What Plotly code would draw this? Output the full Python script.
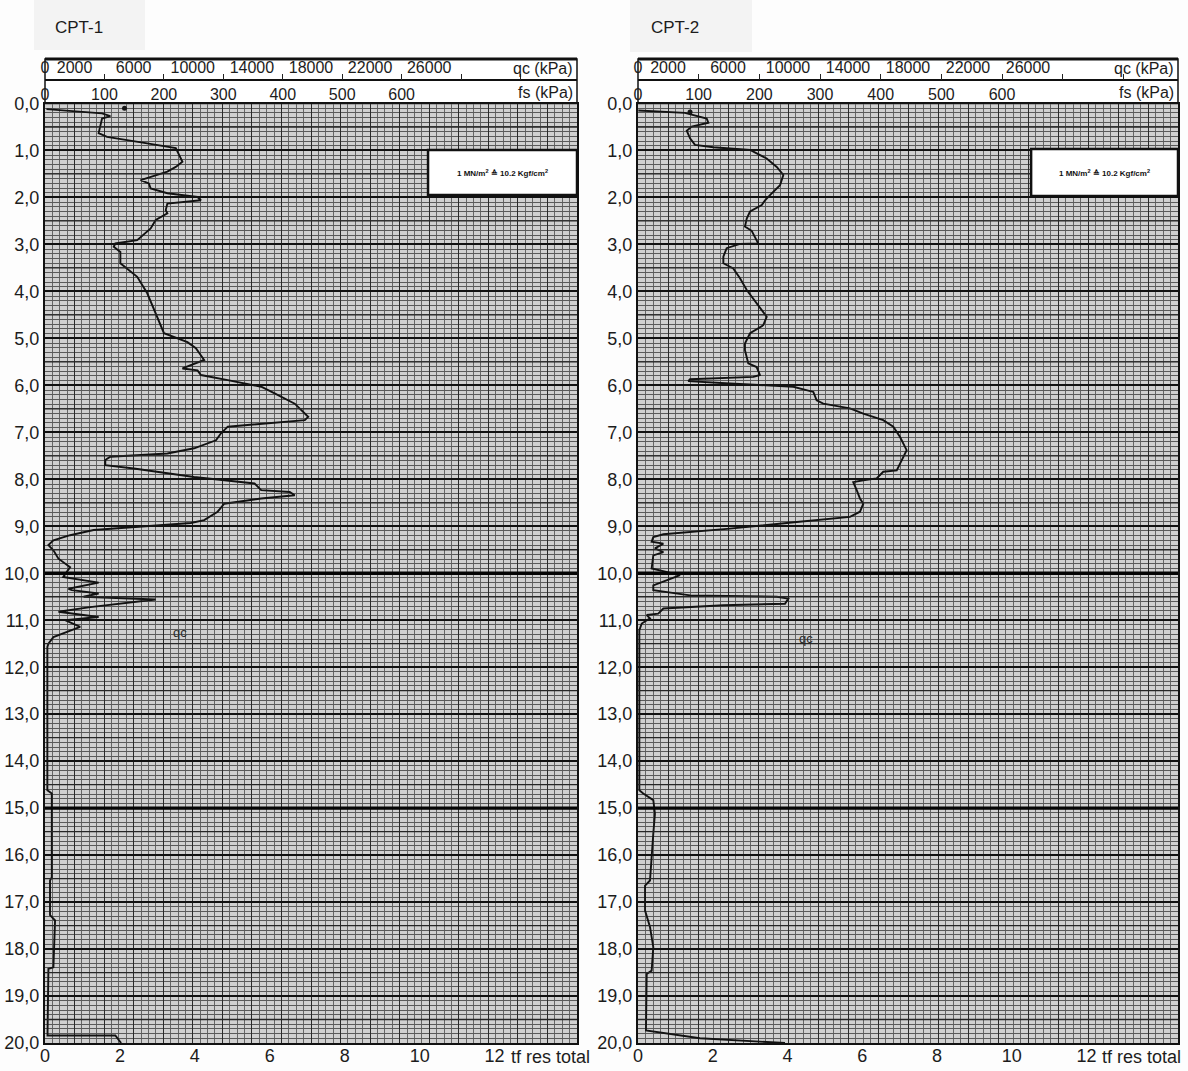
import plotly.graph_objects as go

# ---------------------------------------------------------------------------
# Cone penetration logs: depth (m) vs cone resistance qc (kPa)
# ---------------------------------------------------------------------------
cpt1_depth = [0.12, 0.21, 0.27, 0.32, 0.63, 0.71, 0.85, 0.95, 1.24, 1.35, 1.45, 1.63, 1.70,
              1.81, 1.91, 1.99, 2.06, 2.13, 2.27, 2.34, 2.48, 2.66, 2.91, 2.98, 3.05, 3.16,
              3.40, 3.69, 4.04, 4.47, 4.89, 5.08, 5.21, 5.46, 5.53, 5.64, 5.68, 5.78, 5.89,
              6.03, 6.17, 6.39, 6.67, 6.74, 6.88, 7.02, 7.17, 7.34, 7.45, 7.52, 7.59, 7.70,
              7.77, 7.95, 8.09, 8.23, 8.27, 8.34, 8.41, 8.52, 8.69, 8.87, 8.93, 9.01, 9.08,
              9.19, 9.30, 9.40, 9.51, 9.69, 9.87, 10.08, 10.20, 10.33, 10.36, 10.43, 10.50,
              10.56, 10.72, 10.82, 10.93, 11.00, 11.14, 11.36, 11.50, 11.57, 14.62, 14.69,
              16.47, 16.54, 17.28, 17.39, 18.39, 18.42, 19.84, 19.84, 20.0]
cpt1_qc = [100, 3860, 4420, 3860, 3630, 4200, 6920, 8850, 9300, 8850, 8280, 6470, 7030,
           7150, 8280, 10320, 10550, 8280, 8170, 8280, 7490, 7150, 6240, 4760, 4650, 5100,
           5100, 6240, 6920, 7490, 8050, 9640, 10210, 10770, 10210, 9300, 10320, 10550, 12370,
           14630, 15540, 16900, 17810, 17580, 12370, 11910, 11570, 10090, 8280, 4420, 4080, 4080,
           6010, 10090, 14180, 14630, 16560, 16900, 14630, 12130, 11680, 10770, 9870, 6470, 3290,
           1700, 570, 230, 570, 910, 1700, 1230, 3630, 1590, 1820, 3630, 2610,
           7490, 3060, 910, 3630, 1360, 2380, 570, 230, 160, 160, 460,
           460, 340, 340, 680, 570, 230, 170, 4760, 5150]

cpt2_depth = [0.15, 0.20, 0.32, 0.41, 0.49, 0.58, 0.74, 0.88, 0.93, 0.99, 1.17, 1.35, 1.52,
              1.74, 1.95, 2.06, 2.16, 2.30, 2.45, 2.62, 2.71, 2.84, 2.98, 2.99, 3.08, 3.26,
              3.40, 3.51, 3.72, 3.97, 4.26, 4.54, 4.72, 4.89, 5.11, 5.25, 5.53, 5.61, 5.78,
              5.82, 5.87, 5.91, 5.96, 6.03, 6.14, 6.32, 6.39, 6.49, 6.60, 6.74, 6.88, 7.10,
              7.38, 7.66, 7.81, 7.84, 7.98, 8.02, 8.06, 8.23, 8.41, 8.52, 8.69, 8.80, 8.83,
              8.91, 9.05, 9.17, 9.23, 9.33, 9.37, 9.47, 9.55, 9.62, 9.90, 10.01, 10.04, 10.11,
              10.26, 10.36, 10.47, 10.50, 10.54, 10.65, 10.68, 10.75, 10.86, 10.89, 10.96,
              11.07, 11.21, 14.62, 14.69, 14.83, 15.12, 15.54, 15.97, 16.54, 16.65, 17.18,
              17.53, 17.96, 18.46, 18.53, 19.73, 19.90, 20.0]
cpt2_qc = [20, 3130, 4580, 4690, 3580, 3250, 3470, 3800, 5020, 7470, 8580, 9250, 9690,
           9470, 8800, 8470, 8250, 7470, 7250, 7130, 7580, 7800, 8020, 6800, 5910, 5690,
           5690, 6350, 6800, 7250, 7910, 8580, 8350, 7470, 7130, 7130, 7350, 7910, 8130,
           7690, 3470, 3350, 6130, 10350, 11690, 11910, 12350, 14130, 15020, 16350, 17020, 17470,
           17910, 17470, 17250, 16350, 15910, 15020, 14350, 14580, 14800, 15020, 14800, 14130, 13250,
           10580, 6130, 1690, 1020, 910, 1690, 1130, 1690, 1020, 910, 2350, 2800, 2250,
           1020, 1020, 3470, 9250, 10020, 9800, 5690, 1690, 1350, 580, 800,
           250, 90, 90, 350, 1020, 1130, 1020, 910, 800, 470, 470,
           800, 1020, 910, 580, 530, 4130, 9800]

# marks plotted at the very top of each log
cpt1_mark = (5380, 0.10)
cpt2_mark = (3470, 0.18)

depth_ticks = list(range(0, 21))
depth_labels = [f"{d},0" for d in depth_ticks]
qc_ticks = [0, 2000, 6000, 10000, 14000, 18000, 22000, 26000]
fs_ticks = [0, 100, 200, 300, 400, 500, 600]
fs_marks = [100, 200, 300, 400, 500, 600, 700, 800]
res_ticks = [0, 2, 4, 6, 8, 10, 12]

QC_MAX = 36000
W, H = 1188, 1071
FONT = "Liberation Sans, Arial, sans-serif"
INK = "#1c1c1c"

PLOT_TOP, PLOT_BOT = 103.5, 1043.0
SEP_Y, HEAD_TOP = 80.0, 59.0


def px(x):
    return x / W


def py(y):
    return 1 - y / H


panels = [
    dict(title="CPT-1", left=45, right=577, res_max=14.2, fs_max=895,
         depth=cpt1_depth, qc=cpt1_qc, mark=cpt1_mark, qc_note=(9120, 11.26),
         box=(0.72, 0.99, 1.95), title_box=(34, 145, 50)),
    dict(title="CPT-2", left=638, right=1178, res_max=14.45, fs_max=890,
         depth=cpt2_depth, qc=cpt2_qc, mark=cpt2_mark, qc_note=(11200, 11.38),
         box=(0.728, 0.97, 1.97), title_box=(630, 752, 52)),
]


def xkey(n):
    return "xaxis" if n == 1 else f"xaxis{n}"


def xref(n):
    return "x" if n == 1 else f"x{n}"


fig = go.Figure()
layout = dict(
    width=W, height=H, autosize=False,
    margin=dict(l=0, r=0, t=0, b=0, pad=0, autoexpand=False),
    paper_bgcolor="#fdfdfd", plot_bgcolor="#d0d0d0",
    showlegend=False,
    font=dict(family=FONT, color=INK),
)
shapes, annotations = [], []

for i, p in enumerate(panels):
    base = 5 * i + 1
    main, qc_ax, fs_ax, fs_tk, res_ax = base, base + 1, base + 2, base + 3, base + 4
    ynum = i + 1
    yk = "yaxis" if ynum == 1 else f"yaxis{ynum}"
    yr = "y" if ynum == 1 else f"y{ynum}"
    xr = xref(main)
    dom = [px(p["left"]), px(p["right"])]

    # grid-paper axis carrying the qc data
    layout[xkey(main)] = dict(
        domain=dom, range=[0, QC_MAX], anchor=yr, side="bottom",
        showticklabels=False, ticks="", tick0=0, dtick=2000,
        showgrid=True, gridcolor="#2a2a2a", gridwidth=1.2,
        minor=dict(dtick=500, showgrid=True, gridcolor="#666666", gridwidth=1),
        showline=True, linecolor="#111", linewidth=2, mirror=True,
        zeroline=False, fixedrange=True, automargin=False)
    # qc scale printed in the header
    layout[xkey(qc_ax)] = dict(
        overlaying=xr, anchor="free", position=py(SEP_Y), side="top",
        range=[0, QC_MAX], tickmode="array", tickvals=qc_ticks,
        ticktext=[str(v) for v in qc_ticks], ticks="", showgrid=False,
        showline=True, linecolor="#111", linewidth=1.5, zeroline=False,
        tickfont=dict(size=16, color=INK, family=FONT), fixedrange=True,
        automargin=False)
    # fs scale printed in the header
    layout[xkey(fs_ax)] = dict(
        overlaying=xr, anchor="free", position=py(PLOT_TOP), side="top",
        range=[0, p["fs_max"]], tickmode="array", tickvals=fs_ticks,
        ticktext=[str(v) for v in fs_ticks], ticks="", showgrid=False,
        showline=False, zeroline=False,
        tickfont=dict(size=16, color=INK, family=FONT), fixedrange=True,
        automargin=False)
    layout[xkey(fs_tk)] = dict(
        overlaying=xr, anchor="free", position=py(SEP_Y), side="top",
        range=[0, p["fs_max"]], tickmode="array", tickvals=fs_marks,
        showticklabels=False, ticks="outside", ticklen=6, tickwidth=1.2,
        tickcolor="#222", showgrid=False, showline=False, zeroline=False,
        fixedrange=True, automargin=False)
    # total resistance scale along the bottom
    layout[xkey(res_ax)] = dict(
        overlaying=xr, anchor=yr, side="bottom",
        range=[0, p["res_max"]], tickmode="array", tickvals=res_ticks,
        ticktext=[str(v) for v in res_ticks], ticks="", showgrid=False,
        showline=False, zeroline=False,
        tickfont=dict(size=18, color=INK, family=FONT), fixedrange=True,
        automargin=False)
    layout[yk] = dict(
        domain=[py(PLOT_BOT), py(PLOT_TOP)], range=[20, 0], anchor=xr,
        tickmode="array", tickvals=depth_ticks, ticktext=depth_labels, ticks="",
        showgrid=True, gridcolor="#111111", gridwidth=2.2,
        minor=dict(dtick=0.1, showgrid=True, gridcolor="#5a5a5a", gridwidth=1),
        showline=True, linecolor="#111", linewidth=2, mirror=True,
        zeroline=False, tickfont=dict(size=18, color=INK, family=FONT),
        fixedrange=True, automargin=False)

    # half-metre and five-metre rulings of the chart paper
    for k in range(20):
        shapes.append(dict(type="line", xref=xr, x0=0, x1=QC_MAX, yref=yr,
                           y0=k + 0.5, y1=k + 0.5, layer="above",
                           line=dict(color="#262626", width=1.3)))
    for d in (10, 15):
        shapes.append(dict(type="line", xref=xr, x0=0, x1=QC_MAX, yref=yr,
                           y0=d, y1=d, layer="above",
                           line=dict(color="#050505", width=3.4)))

    # unit conversion note
    bx0, by0, by1 = p["box"]
    shapes.append(dict(type="rect", xref=xr, x0=bx0 * QC_MAX, x1=QC_MAX, yref=yr,
                       y0=by0, y1=by1, layer="above", fillcolor="#ffffff",
                       line=dict(color="#111", width=2.5)))
    annotations.append(dict(
        xref=xr, x=(bx0 + 1) / 2 * QC_MAX, yref=yr, y=(by0 + by1) / 2,
        xanchor="center", yanchor="middle",
        text="<b>1 MN/m<sup>2</sup> ≙ 10.2 Kgf/cm<sup>2</sup></b>",
        showarrow=False, font=dict(size=8, color="#111", family=FONT)))

    # header band
    shapes.append(dict(type="rect", xref="paper", yref="paper",
                       x0=dom[0], x1=dom[1], y0=py(PLOT_TOP), y1=py(HEAD_TOP),
                       fillcolor="#ffffff", layer="below",
                       line=dict(color="#111", width=1.5)))
    shapes.append(dict(type="line", xref="paper", yref="paper",
                       x0=dom[0], x1=dom[1], y0=py(HEAD_TOP), y1=py(HEAD_TOP),
                       layer="below", line=dict(color="#111", width=3)))
    tx0, tx1, ty1 = p["title_box"]
    shapes.append(dict(type="rect", xref="paper", yref="paper",
                       x0=px(tx0), x1=px(tx1), y0=py(ty1), y1=1,
                       fillcolor="#f3f3f3", layer="below", line=dict(width=0)))

    annotations += [
        dict(xref="paper", yref="paper", x=px(tx0 + 19), y=py(27),
             xanchor="left", yanchor="middle",
             text=p["title"], showarrow=False, font=dict(size=17, color=INK)),
        dict(xref="paper", yref="paper", x=px(p["right"] - 2), y=py(68),
             xanchor="right", yanchor="middle", text="qc (kPa)", showarrow=False,
             font=dict(size=16, color=INK)),
        dict(xref="paper", yref="paper", x=px(p["right"] - 2), y=py(92),
             xanchor="right", yanchor="middle", text="fs (kPa)", showarrow=False,
             font=dict(size=16, color=INK)),
        dict(xref="paper", yref="paper",
             x=px(p["left"] + 12 * (p["right"] - p["left"]) / p["res_max"] + 14),
             y=py(1057), xanchor="left", yanchor="middle", text="tf res total",
             showarrow=False, font=dict(size=18, color=INK)),
        dict(xref=xr, yref=yr, x=p["qc_note"][0], y=p["qc_note"][1],
             xanchor="center", yanchor="middle",
             text="qc", showarrow=False, font=dict(size=13, color="#2a2a2a")),
    ]

    # each scale axis needs a (data-less) trace bound to it so it is drawn
    for n in (qc_ax, fs_ax, fs_tk, res_ax):
        fig.add_trace(go.Scatter(x=[], y=[], mode="lines", xaxis=xref(n), yaxis=yr,
                                 hoverinfo="skip"))

    fig.add_trace(go.Scatter(
        x=p["qc"], y=p["depth"], mode="lines", xaxis=xr, yaxis=yr,
        line=dict(color="#121212", width=1.9), hoverinfo="skip"))
    fig.add_trace(go.Scatter(
        x=[p["mark"][0]], y=[p["mark"][1]], mode="markers", xaxis=xr, yaxis=yr,
        marker=dict(color="#151515", size=5), hoverinfo="skip"))

layout["shapes"] = shapes
layout["annotations"] = annotations
fig.update_layout(**layout)
fig.write_html("out.html")
